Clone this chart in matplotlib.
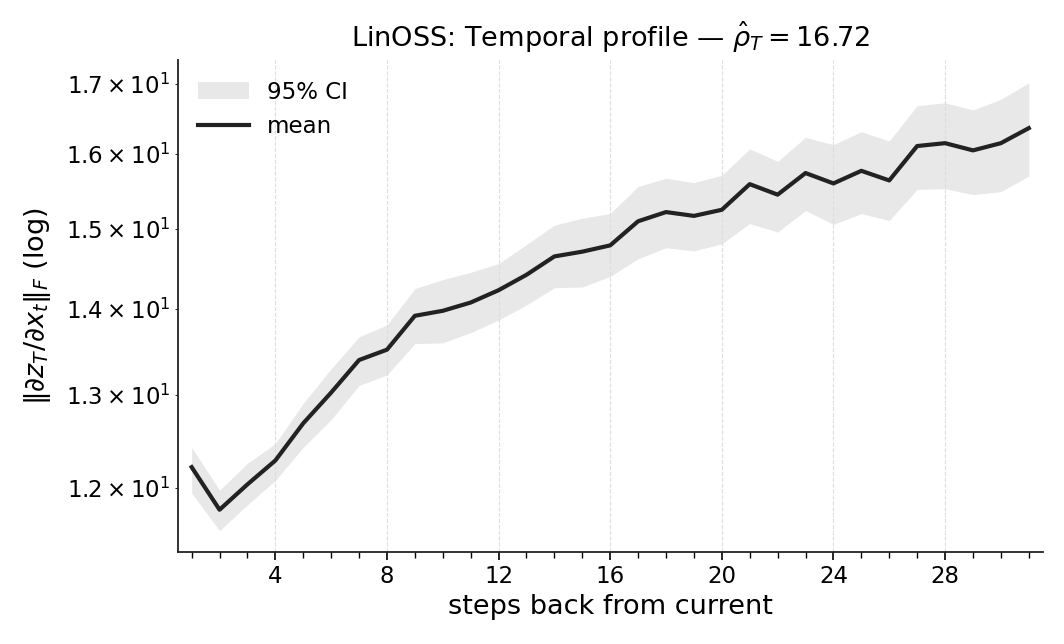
import numpy as np
import matplotlib
matplotlib.use("Agg")
import matplotlib.pyplot as plt
from matplotlib.ticker import MultipleLocator

steps = np.arange(1, 32)
mean = [12.22, 11.78, 12.04, 12.29, 12.69, 13.03, 13.40, 13.52, 13.92, 13.98,
        14.08, 14.23, 14.42, 14.65, 14.71, 14.79, 15.10, 15.22, 15.17, 15.25,
        15.59, 15.45, 15.74, 15.60, 15.77, 15.64, 16.11, 16.15, 16.05, 16.15,
        16.36]
ci_hi = [12.43, 11.98, 12.26, 12.47, 12.91, 13.30, 13.67, 13.81, 14.25, 14.36,
         14.45, 14.56, 14.80, 15.05, 15.14, 15.20, 15.56, 15.67, 15.61, 15.71,
         16.07, 15.90, 16.23, 16.13, 16.31, 16.18, 16.68, 16.72, 16.62, 16.77,
         17.01]
ci_lo = [11.95, 11.57, 11.83, 12.08, 12.43, 12.73, 13.11, 13.23, 13.59, 13.60,
         13.72, 13.87, 14.05, 14.26, 14.27, 14.40, 14.62, 14.76, 14.72, 14.81,
         15.07, 14.96, 15.24, 15.06, 15.20, 15.11, 15.52, 15.53, 15.45, 15.49,
         15.70]
rho = 16.72

fig, ax = plt.subplots(figsize=(10.64, 6.44), dpi=100)
ax.fill_between(steps, ci_lo, ci_hi, color="#e8e8e8", lw=0, label="95% CI")
ax.plot(steps, mean, color="#222222", lw=3, label="mean")

ax.set_yscale("log")
ax.set_xlim(0.5, 31.5)
ax.set_ylim(11.36, 17.35)
ax.xaxis.set_major_locator(MultipleLocator(4))
ax.xaxis.set_minor_locator(MultipleLocator(1))
ax.grid(axis="x", which="major", ls="--", color="#dddddd", lw=0.8)

for s in ["top", "right"]:
    ax.spines[s].set_visible(False)
for s in ["left", "bottom"]:
    ax.spines[s].set_linewidth(1.3)
    ax.spines[s].set_color("#222222")

ax.tick_params(axis="both", which="both", labelsize=16.5)
ax.tick_params(axis="x", which="major", length=6, width=1.2)
ax.tick_params(axis="x", which="minor", length=4, width=1.0)

ax.set_title(r"LinOSS: Temporal profile — $\hat{\rho}_T = %.2f$" % rho,
             fontsize=19.5, pad=9)
ax.set_xlabel("steps back from current", fontsize=19.5)
ax.set_ylabel(r"$\|\partial z_T / \partial x_t\|_F$ (log)", fontsize=19.5,
              labelpad=9)

ax.legend(loc="upper left", frameon=False, fontsize=16.5, handlelength=2.2)

plt.subplots_adjust(left=0.167, right=0.98, top=0.907, bottom=0.143)
plt.savefig("out.png", dpi=100)
